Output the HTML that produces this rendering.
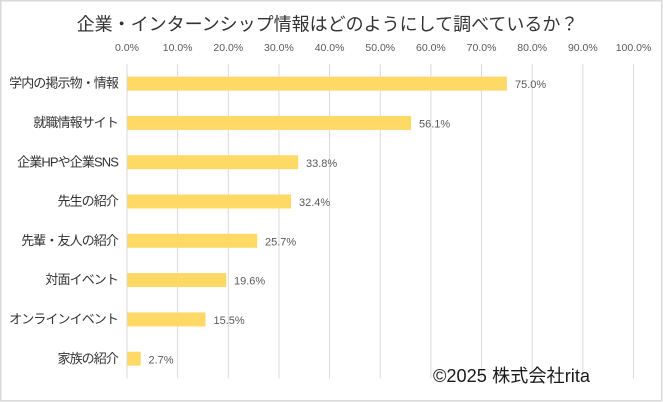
<!DOCTYPE html>
<html>
<head>
<meta charset="utf-8">
<style>
html,body{margin:0;padding:0;background:#fff;}
svg{display:block;}
text{font-family:"Liberation Sans","Noto Sans CJK JP",sans-serif;}
</style>
</head>
<body>
<svg width="663" height="402" viewBox="0 0 663 402" xmlns="http://www.w3.org/2000/svg">
<rect x="0" y="0" width="663" height="402" fill="#fff"/>
<rect x="0.75" y="0.75" width="661" height="400" fill="none" stroke="#d9d9d9" stroke-width="1.5"/>

<text x="327.5" y="30.5" font-size="18" fill="#333" text-anchor="middle">企業・インターンシップ情報はどのようにして調べているか？</text>

<g stroke="#d9d9d9" stroke-width="1">
<line x1="127" y1="64" x2="127" y2="378.3"/>
<line x1="177.65" y1="64" x2="177.65" y2="378.3"/>
<line x1="228.3" y1="64" x2="228.3" y2="378.3"/>
<line x1="278.95" y1="64" x2="278.95" y2="378.3"/>
<line x1="329.6" y1="64" x2="329.6" y2="378.3"/>
<line x1="380.25" y1="64" x2="380.25" y2="378.3"/>
<line x1="430.9" y1="64" x2="430.9" y2="378.3"/>
<line x1="481.55" y1="64" x2="481.55" y2="378.3"/>
<line x1="532.2" y1="64" x2="532.2" y2="378.3"/>
<line x1="582.85" y1="64" x2="582.85" y2="378.3"/>
<line x1="633.5" y1="64" x2="633.5" y2="378.3"/>
</g>

<g font-size="10.5" fill="#595959" text-anchor="middle">
<text x="127" y="51">0.0%</text>
<text x="177.65" y="51">10.0%</text>
<text x="228.3" y="51">20.0%</text>
<text x="278.95" y="51">30.0%</text>
<text x="329.6" y="51">40.0%</text>
<text x="380.25" y="51">50.0%</text>
<text x="430.9" y="51">60.0%</text>
<text x="481.55" y="51">70.0%</text>
<text x="532.2" y="51">80.0%</text>
<text x="582.85" y="51">90.0%</text>
<text x="633.5" y="51">100.0%</text>
</g>

<g fill="#ffd966">
<rect x="127.5" y="76.6" width="379.4" height="14"/>
<rect x="127.5" y="115.9" width="283.6" height="14"/>
<rect x="127.5" y="155.2" width="170.7" height="14"/>
<rect x="127.5" y="194.5" width="163.6" height="14"/>
<rect x="127.5" y="233.8" width="129.7" height="14"/>
<rect x="127.5" y="273.1" width="98.8" height="14"/>
<rect x="127.5" y="312.4" width="78" height="14"/>
<rect x="127.5" y="351.7" width="13.2" height="14"/>
</g>

<g font-size="11" fill="#595959">
<text x="515" y="88.2">75.0%</text>
<text x="419" y="127.5">56.1%</text>
<text x="306" y="166.8">33.8%</text>
<text x="299" y="206.1">32.4%</text>
<text x="265" y="245.4">25.7%</text>
<text x="234" y="284.7">19.6%</text>
<text x="213.5" y="324">15.5%</text>
<text x="148.5" y="363.3">2.7%</text>
</g>

<g font-size="13" fill="#333" text-anchor="end" letter-spacing="-0.9">
<text x="118" y="87.7">学内の掲示物・情報</text>
<text x="118" y="127">就職情報サイト</text>
<text x="118" y="166.3">企業HPや企業SNS</text>
<text x="118" y="205.6">先生の紹介</text>
<text x="118" y="244.9">先輩・友人の紹介</text>
<text x="118" y="284.2">対面イベント</text>
<text x="118" y="323.5">オンラインイベント</text>
<text x="118" y="362.8">家族の紹介</text>
</g>

<text x="433" y="382" font-size="18" fill="#1a1a1a" textLength="157" lengthAdjust="spacingAndGlyphs">©2025 株式会社rita</text>
</svg>
</body>
</html>
